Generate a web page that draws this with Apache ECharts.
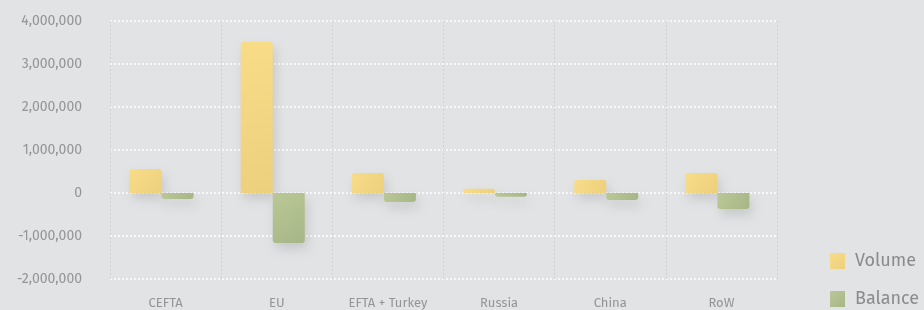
<!DOCTYPE html>
<html>
<head>
<meta charset="utf-8">
<script src="https://cdn.jsdelivr.net/npm/echarts@6/dist/echarts.min.js"></script>
<style>
  html, body { margin: 0; padding: 0; background: #e2e3e5; }
  #chart { width: 924px; height: 310px; }
</style>
</head>
<body>
<div id="chart"></div>
<script>
// regions and trade values
var categories = ['CEFTA', 'EU', 'EFTA + Turkey', 'Russia', 'China', 'RoW'];
var volume = [560000, 3510000, 465000, 100000, 300000, 465000];
var balance = [-140000, -1160000, -210000, -90000, -165000, -370000];
var spacer = [null, null, null, null, null, null]; // empty slot, keeps the pair a bit left of centre

var myChart = echarts.init(document.getElementById('chart'));

function grad(a, b) {
    return new echarts.graphic.LinearGradient(0, 0, 1, 1, [
        { offset: 0, color: a },
        { offset: 1, color: b }
    ]);
}

var font = 'Fira Sans, Open Sans, Lato, sans-serif';

var option = {
    backgroundColor: '#e2e3e5',
    animation: false,
    grid: { left: 110, right: 147, top: 21, bottom: 31 },
    legend: {
        orient: 'vertical',
        left: 830,
        top: 252,
        padding: 0,
        itemWidth: 15,
        itemHeight: 16,
        itemGap: 20,
        icon: 'rect',
        textStyle: { color: '#8a8b8d', fontSize: 18, fontFamily: font, padding: [0, 0, 0, 5] },
        data: ['Volume', 'Balance']
    },
    xAxis: {
        type: 'category',
        data: categories,
        axisLine: { show: false },
        axisTick: { show: false },
        axisLabel: { color: '#949597', fontSize: 13, fontFamily: font, margin: 18 },
        splitLine: { show: true, lineStyle: { color: '#cfd0d2', type: [2, 2], width: 1 } }
    },
    yAxis: {
        type: 'value',
        min: -2000000,
        max: 4000000,
        interval: 1000000,
        axisLine: { show: false },
        axisTick: { show: false },
        axisLabel: {
            color: '#949597',
            fontSize: 14,
            fontFamily: font,
            margin: 28,
            formatter: function (v) { return v.toLocaleString('en-US'); }
        },
        splitLine: { lineStyle: { color: '#ffffff', type: [2, 2], width: 1.5 } }
    },
    series: [
        {
            name: 'Volume',
            type: 'bar',
            data: volume,
            barWidth: 32,
            barGap: '0%',
            itemStyle: {
                color: grad('#f8dc88', '#ecd07d'),
                borderRadius: [3, 3, 0, 0],
                shadowBlur: 12,
                shadowColor: 'rgba(0,0,0,0.12)',
                shadowOffsetX: 3,
                shadowOffsetY: 6
            }
        },
        {
            name: 'Balance',
            type: 'bar',
            data: balance,
            barWidth: 32,
            itemStyle: {
                color: grad('#bac897', '#a7b686'),
                borderRadius: [0, 0, 3, 3],
                shadowBlur: 12,
                shadowColor: 'rgba(0,0,0,0.12)',
                shadowOffsetX: 3,
                shadowOffsetY: 6
            }
        },
        {
            name: 'spacer',
            type: 'bar',
            data: spacer,
            barWidth: 8,
            silent: true
        }
    ]
};

myChart.setOption(option);
</script>
</body>
</html>
